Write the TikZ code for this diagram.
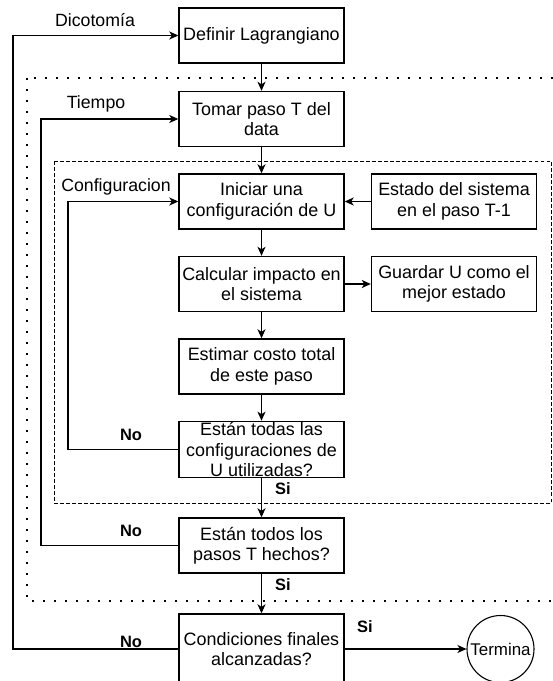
\documentclass[tikz,border=0pt]{standalone}
\usepackage{fontspec}
\setmainfont{Liberation Sans}
\usetikzlibrary{arrows.meta}
\begin{document}
\begin{tikzpicture}[x=1bp,y=-1bp,
  box/.style={draw,line width=1.4bp,minimum width=165bp,minimum height=55bp,align=center,inner sep=1bp,
    font=\fontsize{18}{20.5}\selectfont},
  arr/.style={line width=1.4bp,-{Stealth[length=9bp,width=8bp,inset=2.5bp]}},
  lbl/.style={font=\fontsize{17.8}{20}\selectfont,inner sep=0pt},
  yn/.style={font=\bfseries\fontsize{16.5}{18}\selectfont,inner sep=0pt}]
\useasboundingbox (0,0) rectangle (553,681);
\clip (0,0) rectangle (553,681);
% group frames
\draw[line width=2bp,dash pattern=on 2bp off 9bp] (27,78) rectangle (570,601);
\draw[line width=1bp,dash pattern=on 3.5bp off 2.5bp] (54,161) rectangle (551,503);
% nodes
\node[box] (def) at (261.5,35.5) {Definir Lagrangiano};
\node[box] (tom) at (261.5,119) {Tomar paso T del\\data};
\node[box] (ini) at (261.5,201.5) {Iniciar una\\configuración de U};
\node[box] (est) at (454,201.5) {Estado del sistema\\en el paso T-1};
\node[box] (calc) at (261.5,284) {Calcular impacto en\\el sistema};
\node[box] (guar) at (454,284) {Guardar U como el\\mejor estado};
\node[box] (estim) at (261.5,366.5) {Estimar costo total\\de este paso};
\node[box] (conf) at (261.5,449.5) {Están todas las\\configuraciones de\\U utilizadas?};
\node[box] (pas) at (261.5,545.5) {Están todos los\\pasos T hechos?};
\node[box,minimum height=70bp] (cond) at (261.5,649) {Condiciones finales\\alcanzadas?};
\node[draw,circle,line width=1.1bp,minimum size=67bp,inner sep=0pt,font=\fontsize{17}{19}\selectfont] (term) at (500.5,649) {Termina};
% loop columns
\coordinate (cD) at (13,0);
\coordinate (cT) at (41,0);
\coordinate (cC) at (68,0);
% connectors
\draw[arr] (def) -- (tom);
\draw[arr] (tom) -- (ini);
\draw[arr] (ini) -- (calc);
\draw[arr] (calc) -- (estim);
\draw[arr] (estim) -- (conf);
\draw[arr] (conf) -- (pas);
\draw[arr] (pas) -- (cond);
\draw[arr] (est) -- (ini);
\draw[arr] (calc) -- (guar);
\draw[arr] (cond) -- (term);
\draw[arr] (conf.west) -- (conf.west -| cC) |- (ini.west);
\draw[arr] (pas.west) -- (pas.west -| cT) |- (tom.west);
\draw[arr] (cond.west) -- (cond.west -| cD) |- (def.west);
% labels
\node[lbl] (l1) at (95,20) {Dicotomía};
\node[lbl] (l2) at (96,104) {Tiempo};
\node[lbl] (l3) at (116,187) {Configuracion};
\node[yn] (n1) at (131,435) {No};
\node[yn] (n2) at (131,531) {No};
\node[yn] (n3) at (131,642) {No};
\node[yn] (s1) at (283,489) {Si};
\node[yn] (s2) at (283,585) {Si};
\node[yn] (s3) at (365,627) {Si};
\end{tikzpicture}
\end{document}
